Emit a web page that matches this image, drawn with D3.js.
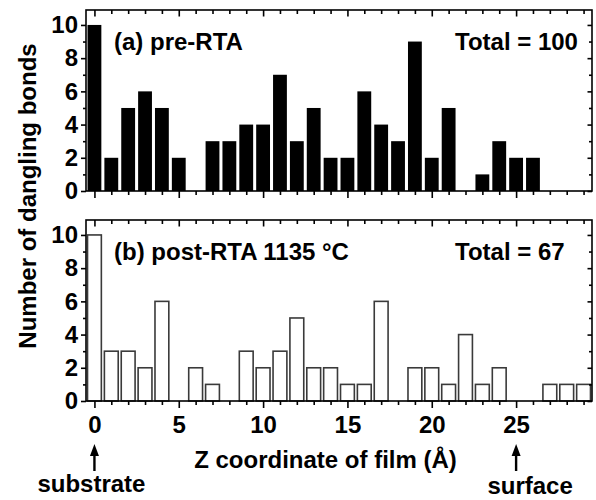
<!DOCTYPE html>
<html>
<head>
<meta charset="utf-8">
<script src="https://cdn.jsdelivr.net/npm/d3@7/dist/d3.min.js"></script>
<style>
  html, body { margin: 0; padding: 0; background: #fff; }
  svg { display: block; }
  text { font-family: "Liberation Sans", Arial, Helvetica, sans-serif; font-weight: bold; fill: #000; }
</style>
</head>
<body>
<svg id="chart" width="596" height="500"></svg>
<script>
// Z positions in the film (Å), one bin per ångström
const zPositions = d3.range(0, 30);
// Dangling bonds per bin before annealing
const preRTA = [10, 2, 5, 6, 5, 2, 0, 3, 3, 4, 4, 7, 3, 5, 2, 2, 6, 4, 3, 9, 2, 5, 0, 1, 3, 2, 2, 0, 0, 0];
// Dangling bonds per bin after RTA at 1135 °C
const postRTA = [10, 3, 3, 2, 6, 0, 2, 1, 0, 3, 2, 3, 5, 2, 2, 1, 1, 6, 0, 2, 2, 1, 4, 1, 2, 0, 0, 1, 1, 1];
const xMajorTicks = [0, 5, 10, 15, 20, 25];
const yMajorTicks = [0, 2, 4, 6, 8, 10];
const yMinorTicks = [1, 3, 5, 7, 9];
const panelLabels = ["(a) pre-RTA", "(b) post-RTA 1135 °C"];
const totalLabels = ["Total = 100", "Total = 67"];

const svg = d3.select("#chart");
const left = 86, right = 592;
const x = d3.scaleLinear().domain([-0.5, 29.5]).range([left, right]);
const barW = (x(1) - x(0)) * 0.82;

const panels = [
  { values: preRTA, top: 10, bottom: 191, fill: "#000", stroke: "none", showX: false },
  { values: postRTA, top: 220, bottom: 401, fill: "#fff", stroke: "#3a3a3a", showX: true }
];

panels.forEach((p, i) => {
  const y = d3.scaleLinear().domain([0, 10.9]).range([p.bottom, p.top]);
  const g = svg.append("g");

  // bars
  g.selectAll("rect.bar")
    .data(zPositions.map(z => ({ z, v: p.values[z] })).filter(d => d.v > 0))
    .join("rect")
    .attr("class", "bar")
    .attr("x", d => x(d.z) - barW / 2)
    .attr("y", d => y(d.v))
    .attr("width", barW)
    .attr("height", d => y(0) - y(d.v))
    .attr("fill", p.fill)
    .attr("stroke", p.stroke)
    .attr("stroke-width", 1.6);

  const styleAxis = sel => {
    sel.select(".domain").remove();
    sel.selectAll("line").attr("stroke", "#000").attr("stroke-width", 1.6);
    sel.selectAll("text").style("font-size", "24px");
  };

  // left axis: outward ticks with labels
  g.append("g").attr("transform", `translate(${left},0)`)
    .call(d3.axisLeft(y).tickValues(yMajorTicks).tickSize(5).tickPadding(3))
    .call(styleAxis);
  g.append("g").attr("transform", `translate(${left},0)`)
    .call(d3.axisLeft(y).tickValues(yMinorTicks).tickSize(3).tickFormat(""))
    .call(styleAxis);

  // right axis: inward ticks
  g.append("g").attr("transform", `translate(${right},0)`)
    .call(d3.axisRight(y).tickValues(yMajorTicks).tickSize(-4.5).tickFormat(""))
    .call(styleAxis);
  g.append("g").attr("transform", `translate(${right},0)`)
    .call(d3.axisRight(y).tickValues(yMinorTicks).tickSize(-3).tickFormat(""))
    .call(styleAxis);

  // top axis: inward ticks
  g.append("g").attr("transform", `translate(0,${p.top})`)
    .call(d3.axisTop(x).tickValues(xMajorTicks).tickSize(-6.5).tickFormat(""))
    .call(styleAxis);
  g.append("g").attr("transform", `translate(0,${p.top})`)
    .call(d3.axisTop(x).tickValues(zPositions.filter(z => z % 5 !== 0)).tickSize(-4).tickFormat(""))
    .call(styleAxis);

  // bottom axis: outward ticks, labelled on the lower panel only
  const bottomMajor = d3.axisBottom(x).tickValues(xMajorTicks).tickSize(7).tickPadding(8);
  if (!p.showX) bottomMajor.tickFormat("");
  g.append("g").attr("transform", `translate(0,${p.bottom})`)
    .call(bottomMajor)
    .call(styleAxis);
  g.append("g").attr("transform", `translate(0,${p.bottom})`)
    .call(d3.axisBottom(x).tickValues(zPositions.filter(z => z % 5 !== 0)).tickSize(4).tickFormat(""))
    .call(styleAxis);

  // frame
  g.append("rect")
    .attr("x", left).attr("y", p.top)
    .attr("width", right - left).attr("height", p.bottom - p.top)
    .attr("fill", "none").attr("stroke", "#000").attr("stroke-width", 1.6);

  // panel annotations
  g.append("text").attr("x", 114).attr("y", y(0) - 141)
    .style("font-size", "24px").text(panelLabels[i]);
  g.append("text").attr("x", 455).attr("y", y(0) - 141)
    .style("font-size", "24px").text(totalLabels[i]);
});

// axis titles
svg.append("text")
  .attr("transform", "translate(36,196) rotate(-90)")
  .attr("text-anchor", "middle")
  .style("font-size", "24px")
  .text("Number of dangling bonds");

svg.append("text")
  .attr("x", (193 + 458) / 2).attr("y", 468)
  .attr("text-anchor", "middle")
  .style("font-size", "24px")
  .text("Z coordinate of film (Å)");

// substrate / surface markers
const markers = [
  { z: 0, label: "substrate", dx: -3, baseline: 492 },
  { z: 25, label: "surface", dx: 14, baseline: 494 }
];
markers.forEach(m => {
  const cx = x(m.z);
  svg.append("line")
    .attr("x1", cx).attr("x2", cx).attr("y1", 471).attr("y2", 454)
    .attr("stroke", "#000").attr("stroke-width", 2.4);
  svg.append("path")
    .attr("d", `M${cx},444 L${cx - 4.5},456 L${cx + 4.5},456 Z`)
    .attr("fill", "#000");
  svg.append("text")
    .attr("x", cx + m.dx).attr("y", m.baseline)
    .attr("text-anchor", "middle")
    .style("font-size", "24px")
    .text(m.label);
});
</script>
</body>
</html>
